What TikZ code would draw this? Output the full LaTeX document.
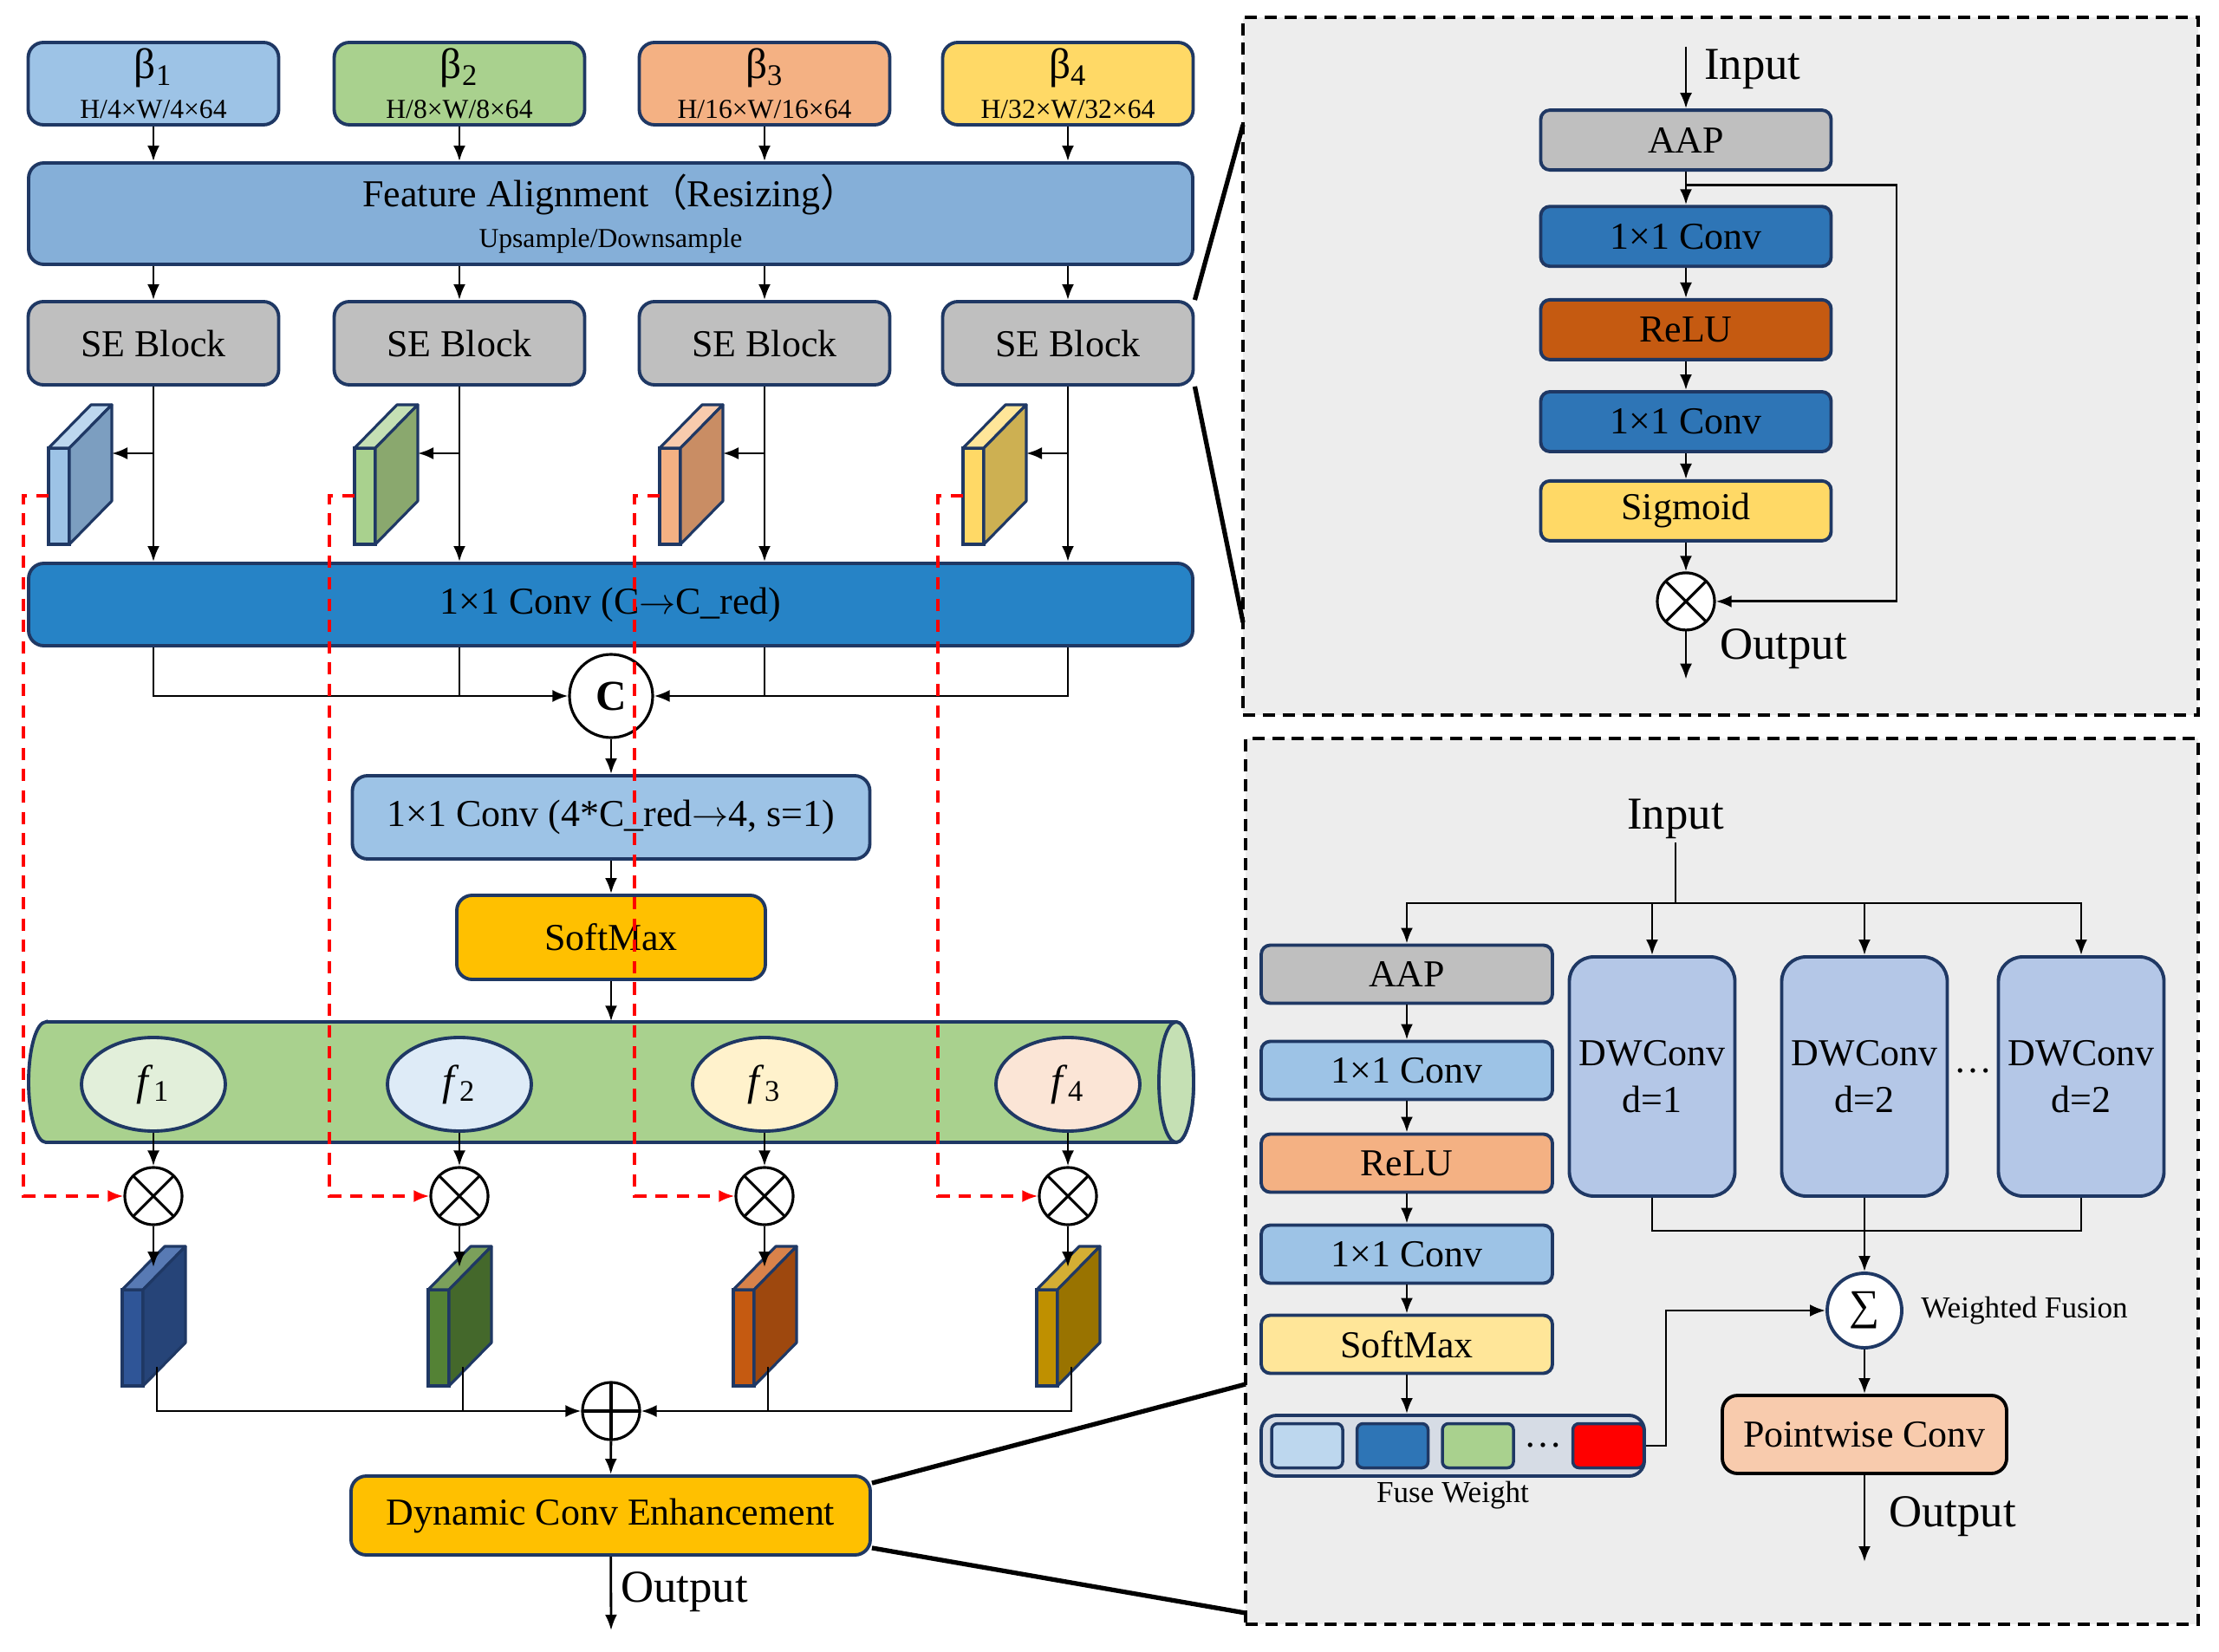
\documentclass[tikz,border=0pt]{standalone}
\usepackage{fontspec}
\setmainfont{Liberation Serif}
\newfontfamily\cjk{Noto Sans CJK SC}
\usepackage{tikz}
\usetikzlibrary{shapes.geometric, arrows.meta, positioning, calc}
\definecolor{cnavy}{RGB}{31,56,100}
\definecolor{cblue}{RGB}{157,195,230}
\definecolor{cgreen}{RGB}{169,209,142}
\definecolor{corange}{RGB}{244,177,131}
\definecolor{cyellow}{RGB}{255,217,102}
\definecolor{calign}{RGB}{133,175,216}
\definecolor{cgrey}{RGB}{191,191,191}
\definecolor{cconvred}{RGB}{38,131,198}
\definecolor{cgold}{RGB}{255,192,0}
\definecolor{cfone}{RGB}{226,239,218}
\definecolor{cftwo}{RGB}{222,235,247}
\definecolor{cfthree}{RGB}{255,242,204}
\definecolor{cffour}{RGB}{251,229,214}
\definecolor{cendcap}{RGB}{197,224,180}
\definecolor{cmid}{RGB}{46,117,182}
\definecolor{crelu}{RGB}{197,90,17}
\definecolor{clightyel}{RGB}{255,230,153}
\definecolor{cdw}{RGB}{180,199,231}
\definecolor{cpeach}{RGB}{248,203,173}
\definecolor{cpanel}{RGB}{237,237,237}
\definecolor{cfuse}{RGB}{214,220,229}
\definecolor{csky}{RGB}{189,215,238}
% slab side / top shades
\definecolor{sblueside}{RGB}{124,158,192}
\definecolor{sgreenside}{RGB}{138,168,110}
\definecolor{sorangeside}{RGB}{201,141,100}
\definecolor{syellowside}{RGB}{205,176,82}
\definecolor{cgreentop}{RGB}{197,224,180}
\definecolor{corangetop}{RGB}{248,203,173}
\definecolor{dblue}{RGB}{47,85,151}
\definecolor{dblueside}{RGB}{38,68,120}
\definecolor{dbluetop}{RGB}{88,122,180}
\definecolor{dgreen}{RGB}{84,130,53}
\definecolor{dgreenside}{RGB}{68,104,43}
\definecolor{dgreentop}{RGB}{123,160,91}
\definecolor{dorange}{RGB}{197,90,17}
\definecolor{dorangeside}{RGB}{158,72,14}
\definecolor{dorangetop}{RGB}{217,130,74}
\definecolor{dgold}{RGB}{191,144,0}
\definecolor{dgoldside}{RGB}{153,115,0}
\definecolor{dgoldtop}{RGB}{212,174,52}

\newcommand{\labfont}{\fontsize{12.5}{15.5}\selectfont}
\newcommand{\betafont}{\fontsize{14}{15}\selectfont}
\newcommand{\tinyfont}{\fontsize{9}{10}\selectfont}
\newcommand{\notefont}{\fontsize{10}{11}\selectfont}
\newcommand{\iofont}{\fontsize{15}{17}\selectfont}

% thin 3D feature slab: x, y (front bottom-left), front, side, top
\newcommand{\featslab}[5]{%
  \filldraw[draw=cnavy, line width=0.9pt, fill=#3] (#1,#2) rectangle ++(0.24,1.11);
  \filldraw[draw=cnavy, line width=0.9pt, line join=round, fill=#5] (#1,#2) ++(0,1.11) -- ++(0.49,0.50) -- ++(0.24,0) -- ++(-0.49,-0.50) -- cycle;
  \filldraw[draw=cnavy, line width=0.9pt, line join=round, fill=#4] (#1,#2) ++(0.24,0) -- ++(0,1.11) -- ++(0.49,0.50) -- ++(0,-1.11) -- cycle;
}

\begin{document}
\begin{tikzpicture}[
  inbox/.style={rectangle, rounded corners=5pt, draw=cnavy, line width=1.1pt,
                minimum width=2.89cm, minimum height=0.95cm, align=center, inner sep=1pt},
  widebox/.style={inbox, minimum width=13.43cm, font=\labfont},
  seblock/.style={inbox, fill=cgrey, minimum height=0.96cm, font=\labfont},
  blk/.style={rectangle, rounded corners=5pt, draw=cnavy, line width=1.1pt,
              align=center, font=\labfont, inner sep=1pt},
  sbox/.style={blk, rounded corners=3pt, minimum width=3.35cm, minimum height=0.69cm},
  lbox/.style={blk, rounded corners=3pt, minimum width=3.36cm, minimum height=0.67cm},
  dwbox/.style={blk, rounded corners=8pt, fill=cdw, minimum width=1.91cm, minimum height=2.76cm},
  wsq/.style={rectangle, rounded corners=2pt, draw=cnavy, line width=1pt,
              minimum width=0.82cm, minimum height=0.51cm, inner sep=0pt},
  fnode/.style={ellipse, draw=cnavy, line width=1.1pt, minimum width=1.66cm,
                minimum height=1.08cm, font=\betafont},
  opnode/.style={circle, draw, line width=0.9pt, minimum size=0.66cm, inner sep=0pt, fill=white},
  otimes/.style={opnode, path picture={\draw[line width=0.9pt]
      (path picture bounding box.north west) -- (path picture bounding box.south east)
      (path picture bounding box.north east) -- (path picture bounding box.south west);}},
  oplus/.style={opnode, path picture={\draw[line width=0.9pt]
      (path picture bounding box.north) -- (path picture bounding box.south)
      (path picture bounding box.west) -- (path picture bounding box.east);}},
  panel/.style={rectangle, draw, fill=cpanel, line width=1.2pt, dash pattern=on 4pt off 2.5pt},
  iolabel/.style={font=\iofont, inner sep=1pt},
  arr/.style={-{Latex[length=1.8mm, width=1.4mm]}, line width=0.8pt},
  redarr/.style={-{Latex[length=1.8mm, width=1.4mm]}, red, line width=0.9pt, dash pattern=on 4pt off 3pt},
  zoomline/.style={line width=1.5pt}
]
\useasboundingbox (0,0) rectangle (25.6,-19.06);

% Detail panels
\node[panel, minimum width=11.02cm, minimum height=8.05cm]  (sepanel) at (19.85,-4.225) {};
\node[panel, minimum width=10.99cm, minimum height=10.22cm] (dcpanel) at (19.865,-13.63) {};

% Multi-scale inputs
\node[inbox, fill=cblue]   (b1) at (1.77,-0.965)  {{\betafont β\textsubscript{1}}\\[1pt]{\tinyfont H/4×W/4×64}};
\node[inbox, fill=cgreen]  (b2) at (5.30,-0.965)  {{\betafont β\textsubscript{2}}\\[1pt]{\tinyfont H/8×W/8×64}};
\node[inbox, fill=corange] (b3) at (8.82,-0.965)  {{\betafont β\textsubscript{3}}\\[1pt]{\tinyfont H/16×W/16×64}};
\node[inbox, fill=cyellow] (b4) at (12.32,-0.965) {{\betafont β\textsubscript{4}}\\[1pt]{\tinyfont H/32×W/32×64}};

% Feature alignment
\node[widebox, fill=calign, minimum height=1.17cm] (align) at (7.045,-2.465)
      {Feature Alignment{\cjk （}Resizing{\cjk ）}\\[-2pt]{\tinyfont Upsample/Downsample}};

% SE blocks
\node[seblock] (se1) at (1.77,-3.96)  {SE Block};
\node[seblock] (se2) at (5.30,-3.96)  {SE Block};
\node[seblock] (se3) at (8.82,-3.96)  {SE Block};
\node[seblock] (se4) at (12.32,-3.96) {SE Block};

% SE outputs
\featslab{0.56}{-6.28}{cblue}{sblueside}{csky}
\featslab{4.09}{-6.28}{cgreen}{sgreenside}{cgreentop}
\featslab{7.61}{-6.28}{corange}{sorangeside}{corangetop}
\featslab{11.11}{-6.28}{cyellow}{syellowside}{clightyel}
\coordinate (s1) at (1.29,-5.23);
\coordinate (s2) at (4.82,-5.23);
\coordinate (s3) at (8.34,-5.23);
\coordinate (s4) at (11.84,-5.23);
\coordinate (r1) at (0.56,-5.72);
\coordinate (r2) at (4.09,-5.72);
\coordinate (r3) at (7.61,-5.72);
\coordinate (r4) at (11.11,-5.72);

% Channel reduction
\node[widebox, fill=cconvred, minimum height=0.95cm] (cred) at (7.045,-6.975) {1×1 Conv (C$\rightarrow$C\_red)};

% Concat
\node[opnode, minimum size=0.96cm, font=\betafont] (cat) at (7.05,-8.03) {\textbf{C}};

% Weight branch
\node[blk, fill=cblue, minimum width=5.97cm, minimum height=0.96cm] (conv4) at (7.05,-9.43) {1×1 Conv (4*C\_red$\rightarrow$4, s=1)};
\node[blk, fill=cgold, minimum width=3.56cm, minimum height=0.97cm] (smax) at (7.05,-10.815) {SoftMax};

% Weight tube
\node[minimum width=13.43cm, minimum height=1.39cm, inner sep=0pt] (tube) at (7.045,-12.485) {};
\filldraw[draw=cnavy, line width=1.1pt, fill=cgreen] (0.53,-11.79) -- (13.57,-11.79)
   arc[start angle=90, end angle=-90, x radius=0.2, y radius=0.695] -- (0.53,-13.18)
   arc[start angle=270, end angle=90, x radius=0.2, y radius=0.695] -- cycle;
\filldraw[draw=cnavy, line width=1.1pt, fill=cendcap] (13.57,-12.485) ellipse[x radius=0.2, y radius=0.695];

\node[fnode, fill=cfone]   (f1) at (1.77,-12.51)  {\textit{f}\textsubscript{1}};
\node[fnode, fill=cftwo]   (f2) at (5.30,-12.51)  {\textit{f}\textsubscript{2}};
\node[fnode, fill=cfthree] (f3) at (8.82,-12.51)  {\textit{f}\textsubscript{3}};
\node[fnode, fill=cffour]  (f4) at (12.32,-12.51) {\textit{f}\textsubscript{4}};

% Reweighting
\node[otimes] (m1) at (1.77,-13.80)  {};
\node[otimes] (m2) at (5.30,-13.80)  {};
\node[otimes] (m3) at (8.82,-13.80)  {};
\node[otimes] (m4) at (12.32,-13.80) {};

\featslab{1.41}{-15.99}{dblue}{dblueside}{dbluetop}
\featslab{4.94}{-15.99}{dgreen}{dgreenside}{dgreentop}
\featslab{8.46}{-15.99}{dorange}{dorangeside}{dorangetop}
\featslab{11.96}{-15.99}{dgold}{dgoldside}{dgoldtop}
\coordinate (t1) at (1.77,-14.62);
\coordinate (t2) at (5.30,-14.62);
\coordinate (t3) at (8.82,-14.62);
\coordinate (t4) at (12.32,-14.62);
\coordinate (o1) at (1.81,-15.77);
\coordinate (o2) at (5.34,-15.77);
\coordinate (o3) at (8.86,-15.77);
\coordinate (o4) at (12.36,-15.77);

% Sum and enhancement
\node[oplus] (sum) at (7.05,-16.28) {};
\node[blk, fill=cgold, minimum width=5.99cm, minimum height=0.91cm] (dyn) at (7.045,-17.485) {Dynamic Conv Enhancement};
\coordinate (out) at (7.05,-18.81);
\node[iolabel, anchor=west] (outlbl) at (7.12,-18.37) {Output};

% ── Arrows ────────────────────────────────────────────────────────────
\draw[arr] (b1) -- (b1 |- align.north);
\draw[arr] (b2) -- (b2 |- align.north);
\draw[arr] (b3) -- (b3 |- align.north);
\draw[arr] (b4) -- (b4 |- align.north);

\draw[arr] (b1 |- align.south) -- (se1);
\draw[arr] (b2 |- align.south) -- (se2);
\draw[arr] (b3 |- align.south) -- (se3);
\draw[arr] (b4 |- align.south) -- (se4);

\draw[arr] (se1) -- (se1 |- cred.north);
\draw[arr] (se2) -- (se2 |- cred.north);
\draw[arr] (se3) -- (se3 |- cred.north);
\draw[arr] (se4) -- (se4 |- cred.north);

\draw[arr] (se1 |- s1) -- (s1);
\draw[arr] (se2 |- s2) -- (s2);
\draw[arr] (se3 |- s3) -- (s3);
\draw[arr] (se4 |- s4) -- (s4);

% to concat
\draw[arr] (se1 |- cred.south) |- (cat.west);
\draw      (se2 |- cred.south) -- (se2 |- cat);
\draw      (se3 |- cred.south) -- (se3 |- cat);
\draw[arr] (se4 |- cred.south) |- (cat.east);

\draw[arr] (cat) -- (conv4);
\draw[arr] (conv4) -- (smax);
\draw[arr] (smax) -- (smax |- tube.north);

\draw[arr] (f1) -- (m1);
\draw[arr] (f2) -- (m2);
\draw[arr] (f3) -- (m3);
\draw[arr] (f4) -- (m4);

\draw[arr] (m1) -- (t1);
\draw[arr] (m2) -- (t2);
\draw[arr] (m3) -- (t3);
\draw[arr] (m4) -- (t4);

% to sum
\draw[arr] (o1) |- (sum.west);
\draw      (o2) -- (o2 |- sum);
\draw      (o3) -- (o3 |- sum);
\draw[arr] (o4) |- (sum.east);

\draw[arr] (sum) -- (dyn);
\draw[arr] (dyn) -- (out);

% SE features to reweighting (dashed)
\draw[redarr] (r1) -- ++(-0.29,0) |- (m1.west);
\draw[redarr] (r2) -- ++(-0.29,0) |- (m2.west);
\draw[redarr] (r3) -- ++(-0.29,0) |- (m3.west);
\draw[redarr] (r4) -- ++(-0.29,0) |- (m4.west);

% ── SE block detail ──────────────────────────────────────────────────
\node[sbox, fill=cgrey]   (aap)  at (19.45,-1.616) {AAP};
\node[sbox, fill=cmid]    (sc1)  at (19.45,-2.727) {1×1 Conv};
\node[sbox, fill=crelu]   (relu) at (19.45,-3.804) {ReLU};
\node[sbox, fill=cmid]    (sc2)  at (19.45,-4.865) {1×1 Conv};
\node[sbox, fill=cyellow] (sig)  at (19.45,-5.894) {Sigmoid};
\node[otimes] (sem) at (19.45,-6.939) {};
\coordinate (sein)  at (19.45,-0.539);
\coordinate (seout) at (19.45,-7.837);
\coordinate (skip)  at (19.45,-2.139);
\node[iolabel, anchor=west] (seinl)  at (19.62,-0.80) {Input};
\node[iolabel, anchor=west] (seoutl) at (19.80,-7.49) {Output};

\draw[arr] (sein) -- (aap);
\draw[arr] (aap) -- (sc1);
\draw[arr] (sc1) -- (relu);
\draw[arr] (relu) -- (sc2);
\draw[arr] (sc2) -- (sig);
\draw[arr] (sig) -- (sem);
\draw[arr] (sem) -- (seout);
\draw[arr] (skip) -- ++(2.43,0) |- (sem.east);

% ── Dynamic conv detail ──────────────────────────────────────────────
\node[iolabel] (dcin) at (19.33,-9.45) {Input};
\coordinate (split) at (19.33,-10.42);

\node[lbox, fill=cgrey]     (aap2)  at (16.23,-11.24) {AAP};
\node[lbox, fill=cblue]     (dc1)   at (16.23,-12.35) {1×1 Conv};
\node[lbox, fill=corange]   (relu2) at (16.23,-13.42) {ReLU};
\node[lbox, fill=cblue]     (dc2)   at (16.23,-14.47) {1×1 Conv};
\node[lbox, fill=clightyel] (smax2) at (16.23,-15.51) {SoftMax};

\node[blk, fill=cfuse, minimum width=4.42cm, minimum height=0.70cm] (fw) at (16.76,-16.68) {};
\node[wsq, fill=csky]  (q1) at (15.08,-16.68) {};
\node[wsq, fill=cmid, right=0.13cm of q1]   (q2) {};
\node[wsq, fill=cgreen, right=0.13cm of q2] (q3) {};
\node[wsq, fill=red, right=0.65cm of q3]    (q4) {};
\node[font=\labfont, inner sep=0pt] (qdots) at ($(q3.east)!0.5!(q4.west)$) {…};
\node[font=\notefont, inner sep=1pt, below=0pt of fw] (fwl) {Fuse Weight};

\node[dwbox] (dw1) at (19.06,-12.42) {DWConv\\d=1};
\node[dwbox] (dw2) at (21.51,-12.42) {DWConv\\d=2};
\node[dwbox] (dw3) at (24.01,-12.42) {DWConv\\d=2};
\node[font=\labfont] (dwdots) at (22.76,-12.36) {…};
\coordinate (merge) at (21.51,-14.20);

\node[opnode, draw=cnavy, line width=1.1pt, minimum size=0.86cm, font=\betafont] (wsum) at (21.51,-15.12) {∑};
\node[font=\notefont, right=0.08cm of wsum] (wfl) {Weighted Fusion};
\node[blk, draw=black, fill=cpeach, minimum width=3.28cm, minimum height=0.90cm] (pw) at (21.51,-16.55) {Pointwise Conv};
\coordinate (dcout) at (21.51,-18.02);
\node[iolabel, anchor=west] (dcoutl) at (21.75,-17.50) {Output};

\draw[line width=0.8pt] (dcin.south) -- (split);
\draw[arr] (split) -| (aap2.north);
\draw[arr] (split) -| (dw3.north);
\draw[arr] (dw1.north |- split) -- (dw1.north);
\draw[arr] (dw2.north |- split) -- (dw2.north);

\draw[arr] (aap2) -- (dc1);
\draw[arr] (dc1) -- (relu2);
\draw[arr] (relu2) -- (dc2);
\draw[arr] (dc2) -- (smax2);
\draw[arr] (smax2) -- (smax2 |- fw.north);

\draw[line width=0.8pt] (dw1.south) |- (merge) -| (dw3.south);
\draw[arr] (dw2.south) -- (wsum);
\draw[arr] (fw.east) -- ++(0.23,0) |- (wsum.west);
\draw[arr] (wsum) -- (pw);
\draw[arr] (pw) -- (dcout);

% ── Zoom lines ───────────────────────────────────────────────────────
\coordinate (z1) at (14.34,-1.44);
\coordinate (z2) at (14.34,-7.18);
\coordinate (z3) at (14.37,-15.97);
\coordinate (z4) at (14.37,-18.61);
\draw[zoomline] (se4.north east) -- (z1);
\draw[zoomline] (se4.south east) -- (z2);
\draw[zoomline] ([yshift=-1mm]dyn.north east) -- (z3);
\draw[zoomline] ([yshift=1mm]dyn.south east) -- (z4);

\end{tikzpicture}
\end{document}
